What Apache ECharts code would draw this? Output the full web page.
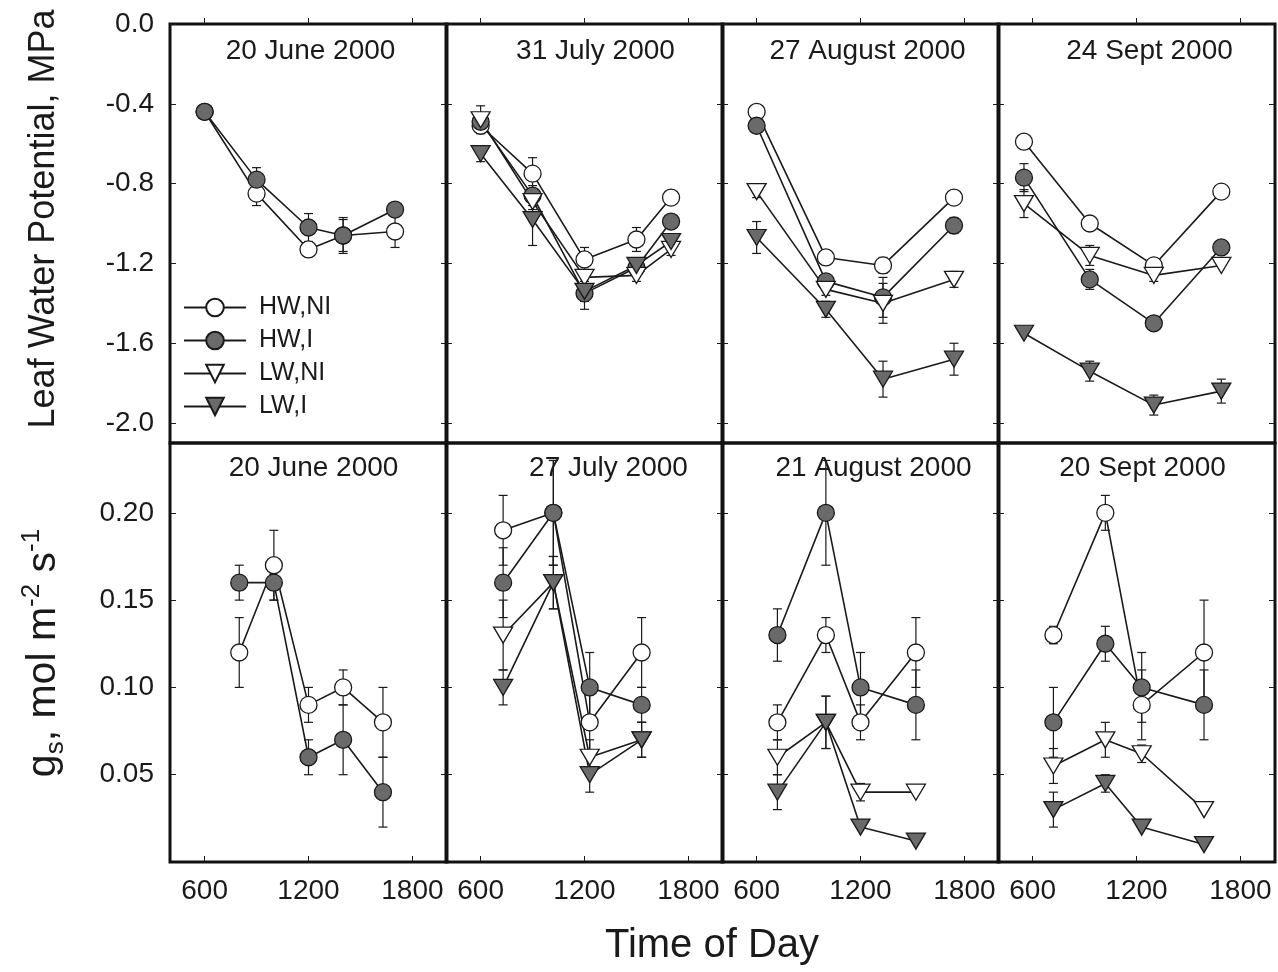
<!DOCTYPE html>
<html>
<head>
<meta charset="utf-8">
<title>Leaf water potential and g_s, 2000</title>
<script src="https://cdn.jsdelivr.net/npm/echarts@6/dist/echarts.min.js"></script>
<style>
html, body { margin: 0; padding: 0; background: #fff; }
#main { width: 1278px; height: 972px; }
</style>
</head>
<body>
<div id="main"></div>
<script>
// ---- data ----
var groupNames = ['HW,NI', 'HW,I', 'LW,NI', 'LW,I'];

var xTicks = [600, 1200, 1800];
var lwpTicks = [0, -0.4, -0.8, -1.2, -1.6, -2.0];
var gsTicks = [0.05, 0.10, 0.15, 0.20];

var lwpTitles = ['20 June 2000', '31 July 2000', '27 August 2000', '24 Sept 2000'];
var gsTitles = ['20 June 2000', '27 July 2000', '21 August 2000', '20 Sept 2000'];

// leaf water potential, MPa  (values per group: HW,NI / HW,I / LW,NI / LW,I)
var lwpJun20Times = [600, 900, 1200, 1400, 1700];
var lwpJun20Values = [
	[-0.44, -0.85, -1.13, -1.06, -1.04],
	[-0.44, -0.78, -1.02, -1.06, -0.93],
	null,
	null
];
var lwpJun20Errors = [
	[0, 0.06, 0.02, 0.08, 0.08],
	[0, 0.06, 0.07, 0.09, 0.02],
	null,
	null
];

var lwpJul31Times = [600, 900, 1200, 1500, 1700];
var lwpJul31Values = [
	[-0.51, -0.75, -1.18, -1.08, -0.87],
	[-0.49, -0.86, -1.35, -1.22, -0.99],
	[-0.48, -0.89, -1.27, -1.26, -1.13],
	[-0.65, -0.98, -1.34, -1.21, -1.09]
];
var lwpJul31Errors = [
	[0.03, 0.08, 0.06, 0.06, 0],
	[0.03, 0.05, 0.08, 0.03, 0.03],
	[0.07, 0.04, 0.04, 0.03, 0.03],
	[0.04, 0.13, 0.05, 0.03, 0.03]
];

var lwpAug27Times = [600, 1000, 1330, 1740];
var lwpAug27Values = [
	[-0.44, -1.17, -1.21, -0.87],
	[-0.51, -1.29, -1.37, -1.01],
	[-0.84, -1.33, -1.40, -1.28],
	[-1.07, -1.43, -1.78, -1.68]
];
var lwpAug27Errors = [
	[0, 0, 0.04, 0],
	[0, 0.03, 0.10, 0.04],
	[0.03, 0.03, 0.10, 0.04],
	[0.08, 0.04, 0.09, 0.08]
];

var lwpSep24Times = [550, 930, 1300, 1690];
var lwpSep24Values = [
	[-0.59, -1.00, -1.21, -0.84],
	[-0.77, -1.28, -1.50, -1.12],
	[-0.90, -1.16, -1.26, -1.21],
	[-1.55, -1.74, -1.91, -1.84]
];
var lwpSep24Errors = [
	[0, 0, 0.03, 0],
	[0.07, 0.05, 0, 0],
	[0.07, 0.05, 0.03, 0],
	[0, 0.05, 0.05, 0.06]
];

// stomatal conductance, mol m-2 s-1
var gsJun20Times = [800, 1000, 1200, 1400, 1630];
var gsJun20Values = [
	[0.12, 0.17, 0.09, 0.10, 0.08],
	[0.16, 0.16, 0.06, 0.07, 0.04],
	null,
	null
];
var gsJun20Errors = [
	[0.02, 0.02, 0.01, 0.01, 0.02],
	[0.01, 0.01, 0.01, 0.02, 0.02],
	null,
	null
];

var gsJul27Times = [730, 1020, 1230, 1530];
var gsJul27Values = [
	[0.19, 0.20, 0.08, 0.12],
	[0.16, 0.20, 0.10, 0.09],
	[0.13, 0.16, 0.06, 0.07],
	[0.10, 0.16, 0.05, 0.07]
];
var gsJul27Errors = [
	[0.02, 0.03, 0.02, 0.02],
	[0.02, 0.03, 0.02, 0.01],
	[0.02, 0.015, 0.01, 0.01],
	[0.01, 0.015, 0.01, 0.01]
];

var gsAug21Times = [720, 1000, 1200, 1520];
var gsAug21Values = [
	[0.08, 0.13, 0.08, 0.12],
	[0.13, 0.20, 0.10, 0.09],
	[0.06, 0.08, 0.04, 0.04],
	[0.04, 0.08, 0.02, 0.012]
];
var gsAug21Errors = [
	[0.01, 0.01, 0.01, 0.02],
	[0.015, 0.03, 0.02, 0.02],
	[0.01, 0.015, 0.005, 0],
	[0.01, 0.015, 0, 0]
];

var gsSep20Times = [720, 1020, 1230, 1590];
var gsSep20Values = [
	[0.13, 0.20, 0.09, 0.12],
	[0.08, 0.125, 0.10, 0.09],
	[0.055, 0.07, 0.062, 0.03],
	[0.03, 0.045, 0.02, 0.01]
];
var gsSep20Errors = [
	[0.005, 0.01, 0.02, 0.03],
	[0.02, 0.01, 0.02, 0.02],
	[0.01, 0.01, 0.005, 0],
	[0.01, 0.005, 0, 0]
];

// ---- layout ----
var colLeft = [170, 446, 722, 998];
var colWidth = 277;
var rowTop = [24, 443];
var rowHeight = [419, 419];
var titleShift = [[2, 11, 7, 13], [5, 24, 13, 6]];
var fontName = '"Liberation Sans", Arial, Helvetica, sans-serif';
var ink = '#1a1a1a';

var triDown = 'path://M0,0 L20,0 L10,17 Z';
var groupStyles = [
	{ symbol: 'circle', size: 17, fill: '#ffffff' },
	{ symbol: 'circle', size: 17, fill: '#6a6a6a' },
	{ symbol: triDown, size: [19, 16], fill: '#ffffff' },
	{ symbol: triDown, size: [19, 16], fill: '#6a6a6a' }
];

var panels = [
	{ row: 0, col: 0, title: lwpTitles[0], times: lwpJun20Times, values: lwpJun20Values, errors: lwpJun20Errors },
	{ row: 0, col: 1, title: lwpTitles[1], times: lwpJul31Times, values: lwpJul31Values, errors: lwpJul31Errors },
	{ row: 0, col: 2, title: lwpTitles[2], times: lwpAug27Times, values: lwpAug27Values, errors: lwpAug27Errors },
	{ row: 0, col: 3, title: lwpTitles[3], times: lwpSep24Times, values: lwpSep24Values, errors: lwpSep24Errors },
	{ row: 1, col: 0, title: gsTitles[0], times: gsJun20Times, values: gsJun20Values, errors: gsJun20Errors },
	{ row: 1, col: 1, title: gsTitles[1], times: gsJul27Times, values: gsJul27Values, errors: gsJul27Errors },
	{ row: 1, col: 2, title: gsTitles[2], times: gsAug21Times, values: gsAug21Values, errors: gsAug21Errors },
	{ row: 1, col: 3, title: gsTitles[3], times: gsSep20Times, values: gsSep20Values, errors: gsSep20Errors }
];

// error bar drawn through the axes
function renderErrorBar(params, api) {
	var t = api.value(0);
	var lowPt = api.coord([t, api.value(1)]);
	var highPt = api.coord([t, api.value(2)]);
	var cap = 4.5;
	var st = { stroke: ink, lineWidth: 1.2 };
	return {
		type: 'group',
		children: [
			{ type: 'line', shape: { x1: lowPt[0], y1: lowPt[1], x2: highPt[0], y2: highPt[1] }, style: st },
			{ type: 'line', shape: { x1: lowPt[0] - cap, y1: lowPt[1], x2: lowPt[0] + cap, y2: lowPt[1] }, style: st },
			{ type: 'line', shape: { x1: highPt[0] - cap, y1: highPt[1], x2: highPt[0] + cap, y2: highPt[1] }, style: st }
		]
	};
}

var option = {
	animation: false,
	backgroundColor: '#fff',
	textStyle: { fontFamily: fontName, color: ink },
	grid: [],
	xAxis: [],
	yAxis: [],
	series: [],
	graphic: [],
	legend: {
		data: groupNames,
		orient: 'vertical',
		left: 178,
		top: 290,
		itemWidth: 62,
		itemHeight: 22,
		itemGap: 8,
		selectedMode: false,
		textStyle: { fontSize: 25, color: ink, fontFamily: fontName, padding: [0, 0, 0, 8] }
	}
};

panels.forEach(function (p, i) {
	var isTop = p.row === 0;
	var ticks = isTop ? lwpTicks : gsTicks;
	var yMin = isTop ? -2.1 : 0;
	var yMax = isTop ? 0 : 0.24;

	option.grid.push({
		left: colLeft[p.col], top: rowTop[p.row], width: colWidth, height: rowHeight[p.row],
		show: true, borderColor: '#111', borderWidth: 3
	});

	option.xAxis.push({
		gridIndex: i, type: 'value', min: 400, max: 2000,
		axisLine: { show: false },
		splitLine: { show: false },
		axisTick: { show: true, inside: true, length: 6, customValues: xTicks, lineStyle: { color: ink, width: 1 } },
		axisLabel: {
			show: !isTop, customValues: xTicks, fontSize: 28, margin: 15, color: ink,
			formatter: function (v) { return String(v); }
		}
	});

	var yLabel = {
		show: p.col === 0, customValues: ticks, fontSize: 28, margin: 16, color: ink,
		formatter: function (v) { return isTop ? v.toFixed(1) : v.toFixed(2); }
	};
	option.yAxis.push({
		gridIndex: i, type: 'value', min: yMin, max: yMax, position: 'left',
		axisLine: { show: false }, splitLine: { show: false },
		axisTick: { show: true, inside: true, length: 6, customValues: ticks, lineStyle: { color: ink, width: 1 } },
		axisLabel: yLabel
	});
	option.yAxis.push({
		gridIndex: i, type: 'value', min: yMin, max: yMax, position: 'right',
		axisLine: { show: false }, splitLine: { show: false },
		axisTick: { show: true, inside: true, length: 6, customValues: ticks, lineStyle: { color: ink, width: 1 } },
		axisLabel: { show: false }
	});

	// error bars behind the markers
	var bars = [];
	for (var g = 0; g < groupNames.length; g++) {
		if (!p.values[g]) continue;
		for (var k = 0; k < p.times.length; k++) {
			var e = p.errors[g][k];
			if (!e) continue;
			bars.push([p.times[k], p.values[g][k] - e, p.values[g][k] + e]);
		}
	}
	option.series.push({
		type: 'custom', name: 'err' + i, xAxisIndex: i, yAxisIndex: i * 2,
		renderItem: renderErrorBar, encode: { x: 0, y: [1, 2] }, data: bars, z: 1, silent: true
	});

	for (var g2 = 0; g2 < groupNames.length; g2++) {
		if (!p.values[g2]) continue;
		var pts = [];
		for (var k2 = 0; k2 < p.times.length; k2++) pts.push([p.times[k2], p.values[g2][k2]]);
		var st = groupStyles[g2];
		option.series.push({
			type: 'line', name: groupNames[g2], xAxisIndex: i, yAxisIndex: i * 2,
			data: pts, z: 3,
			symbol: st.symbol, symbolSize: st.size, showAllSymbol: true,
			lineStyle: { color: ink, width: 1.6 },
			itemStyle: { color: st.fill, borderColor: ink, borderWidth: 1.3, opacity: 1 }
		});
	}

	option.graphic.push({
		type: 'text', z: 10,
		x: colLeft[p.col] + colWidth / 2 + titleShift[p.row][p.col],
		y: isTop ? 51 : 468,
		style: { text: p.title, fontSize: 28, fontFamily: fontName, fill: ink, align: 'center', verticalAlign: 'middle' }
	});
});

// axis titles
option.graphic.push({
	type: 'text', x: 712, y: 946,
	style: { text: 'Time of Day', fontSize: 40, fontFamily: fontName, fill: ink, align: 'center', verticalAlign: 'middle' }
});
option.graphic.push({
	type: 'text', x: 44, y: 219, rotation: Math.PI / 2,
	style: { text: 'Leaf Water Potential, MPa', fontSize: 36, fontFamily: fontName, fill: ink, align: 'center', verticalAlign: 'middle' }
});
option.graphic.push({
	type: 'text', x: 44, y: 653, rotation: Math.PI / 2,
	style: {
		text: '{a|g}{b|s}{a|, mol m}{c|-2}{a| s}{c|-1}',
		align: 'center', verticalAlign: 'middle', fill: ink, fontFamily: fontName,
		rich: {
			a: { fontSize: 41, lineHeight: 50, fontFamily: fontName, fill: ink },
			b: { fontSize: 26, lineHeight: 26, verticalAlign: 'bottom', fontFamily: fontName, fill: ink },
			c: { fontSize: 26, lineHeight: 26, verticalAlign: 'top', fontFamily: fontName, fill: ink }
		}
	}
});

var chart = echarts.init(document.getElementById('main'));
chart.setOption(option);
</script>
</body>
</html>
